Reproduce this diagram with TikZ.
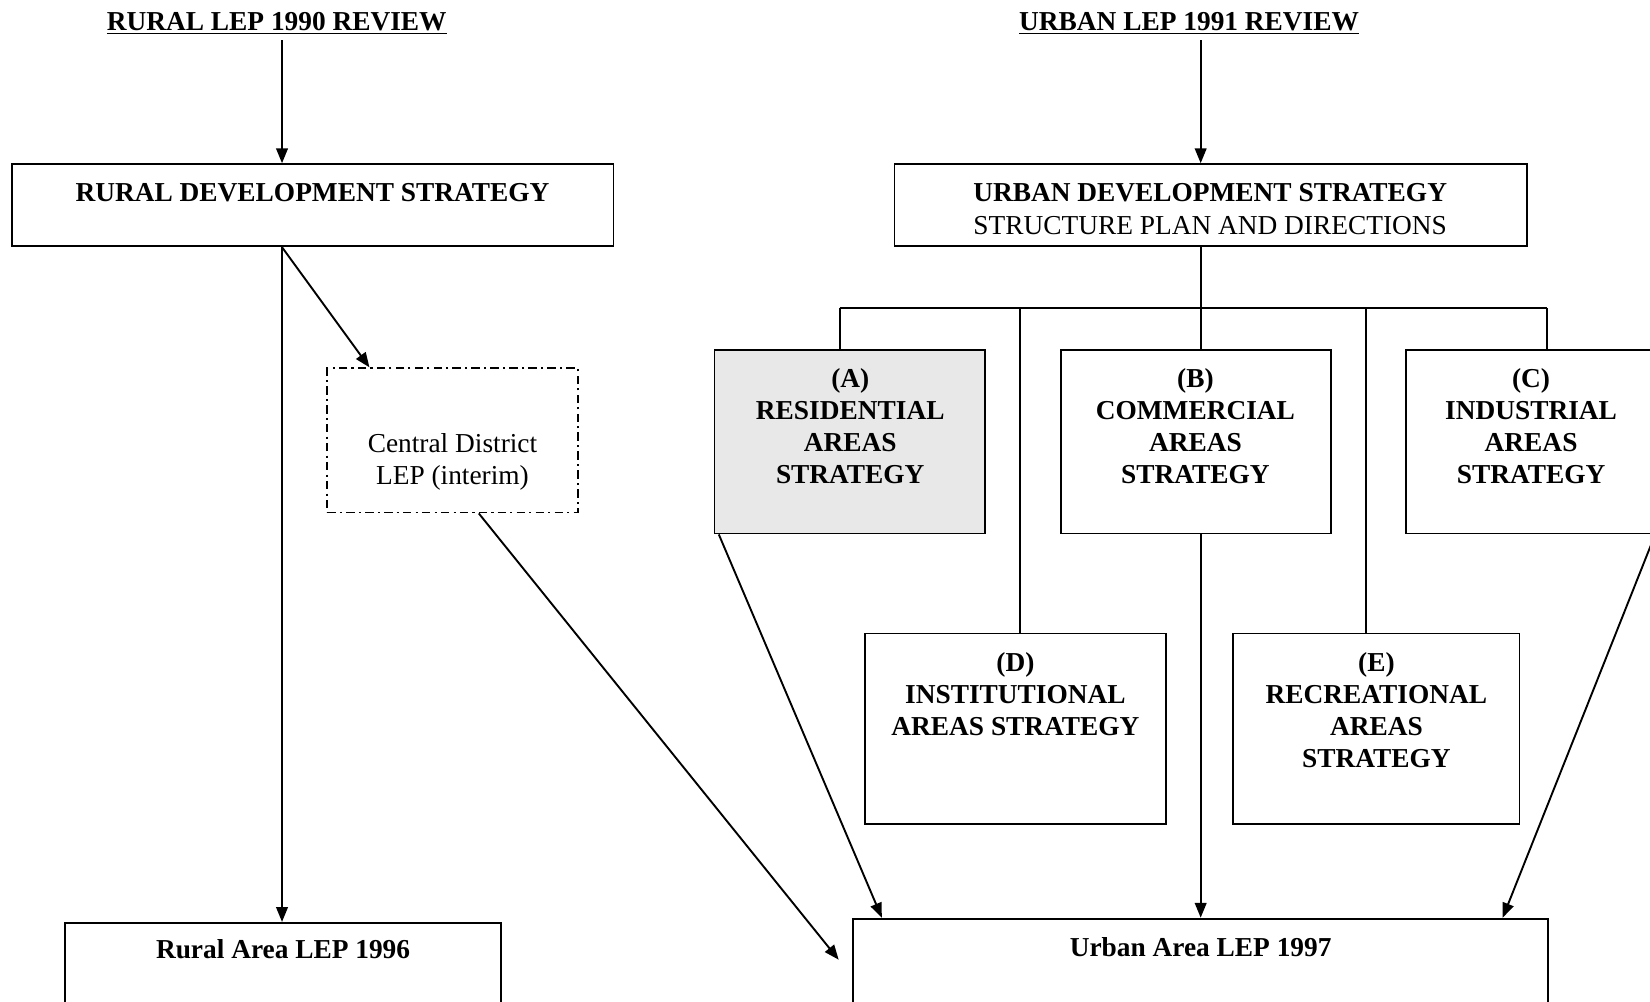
\documentclass[tikz,border=0pt]{standalone}
\usepackage{fontspec}
\setmainfont{Liberation Serif}
\usetikzlibrary{arrows.meta}
\begin{document}
\begin{tikzpicture}[x=0.5pt,y=-0.5pt,
  box/.style={draw,line width=0.9pt,inner sep=0pt,rectangle},
  lbl/.style={anchor=north,inner sep=0pt,align=center,font=\fontsize{13}{15.3}\selectfont},
  bl/.style={anchor=north,inner sep=0pt,align=center,font=\fontsize{13}{15.3}\selectfont\bfseries},
  ln/.style={line width=0.9pt},
  arr/.style={ln,-{Triangle[length=7pt,width=5.5pt]}}]
\clip (0,0) rectangle (1568,952);
\fill[white] (0,0) rectangle (1568,952);

% titles
\node[bl] (t1) at (263,7) {\strut\underline{RURAL LEP 1990 REVIEW}};
\node[bl] (t2) at (1130,7) {\strut\underline{URBAN LEP 1991 REVIEW}};

% reference x positions
\coordinate (c1) at (268,0);
\coordinate (c2) at (1141,0);

% development strategy boxes
\node[box,minimum width=286pt,minimum height=39pt] (rd) at (297,195) {};
\node[bl] (rdt) at (297,170) {\strut RURAL DEVELOPMENT STRATEGY};
\node[box,minimum width=300.5pt,minimum height=39pt] (ud) at (1150.5,195) {};
\node[lbl] (udt) at (1150,170) {\strut\textbf{URBAN DEVELOPMENT STRATEGY}\\STRUCTURE PLAN AND DIRECTIONS};

% central district
\node[box,dash pattern=on 4pt off 2pt on 1pt off 2pt,minimum width=119pt,minimum height=68.5pt] (cd) at (430,418.5) {};
\node[lbl] (cdt) at (430,408) {\strut Central District\\LEP (interim)};

% A B C
\node[box,fill={rgb,255:red,232;green,232;blue,232},minimum width=128.5pt,minimum height=87pt] (A) at (807.5,420) {};
\node[bl] (At) at (808,346) {\strut (A)\\RESIDENTIAL\\AREAS\\STRATEGY};
\node[box,minimum width=128.5pt,minimum height=87pt] (B) at (1136.5,420) {};
\node[bl] (Bt) at (1136,346) {\strut (B)\\COMMERCIAL\\AREAS\\STRATEGY};
\node[box,minimum width=119pt,minimum height=87pt] (C) at (1455,420) {};
\node[bl] (Ct) at (1455,346) {\strut (C)\\INDUSTRIAL\\AREAS\\STRATEGY};

% D E
\node[box,minimum width=143pt,minimum height=90.5pt] (D) at (965,692.5) {};
\node[bl] (Dt) at (965,616) {\strut (D)\\INSTITUTIONAL\\AREAS STRATEGY};
\node[box,minimum width=136pt,minimum height=90.5pt] (E) at (1308,692.5) {};
\node[bl] (Et) at (1308,616) {\strut (E)\\RECREATIONAL\\AREAS\\STRATEGY};

% bottom boxes
\node[box,minimum width=207pt,minimum height=44pt] (ra) at (269,921) {};
\node[bl] (rat) at (269,889) {\strut Rural Area LEP 1996};
\node[box,minimum width=330pt,minimum height=46pt] (ua) at (1141,919) {};
\node[bl] (uat) at (1141,887) {\strut Urban Area LEP 1997};

% bus coordinates
\coordinate (xA) at (798,293);
\coordinate (xD) at (969,293);
\coordinate (xB) at (1141,293);
\coordinate (xE) at (1298,293);
\coordinate (xC) at (1470,293);
\coordinate (eA) at (838,0);
\coordinate (eC) at (1428,0);
\coordinate (eCD) at (797,912);

% rural connectors
\draw[arr] (t1.south -| c1) -- (rd.north -| c1);
\draw[arr] (rd.south -| c1) -- (ra.north -| c1);
\draw[arr] (rd.south -| c1) -- ([xshift=20.5pt]cd.north west);
\draw[arr] ([xshift=12.5pt]cd.south) -- (eCD);

% urban connectors
\draw[arr] (t2.south -| c2) -- (ud.north -| c2);
\draw[ln] (ud.south -| xB) -- (xB);
\draw[ln] (xA) -- (xC);
\draw[ln] (xA) -- (A.north -| xA);
\draw[ln] (xB) -- (B.north -| xB);
\draw[ln] (xC) -- (C.north -| xC);
\draw[ln] (xD) -- (D.north -| xD);
\draw[ln] (xE) -- (E.north -| xE);
\draw[arr] ([xshift=2.5pt]A.south west) -- (ua.north -| eA);
\draw[arr] (B.south -| xB) -- (ua.north -| xB);
\draw[arr] ([xshift=-1pt]C.south east) -- (ua.north -| eC);
\end{tikzpicture}
\end{document}
